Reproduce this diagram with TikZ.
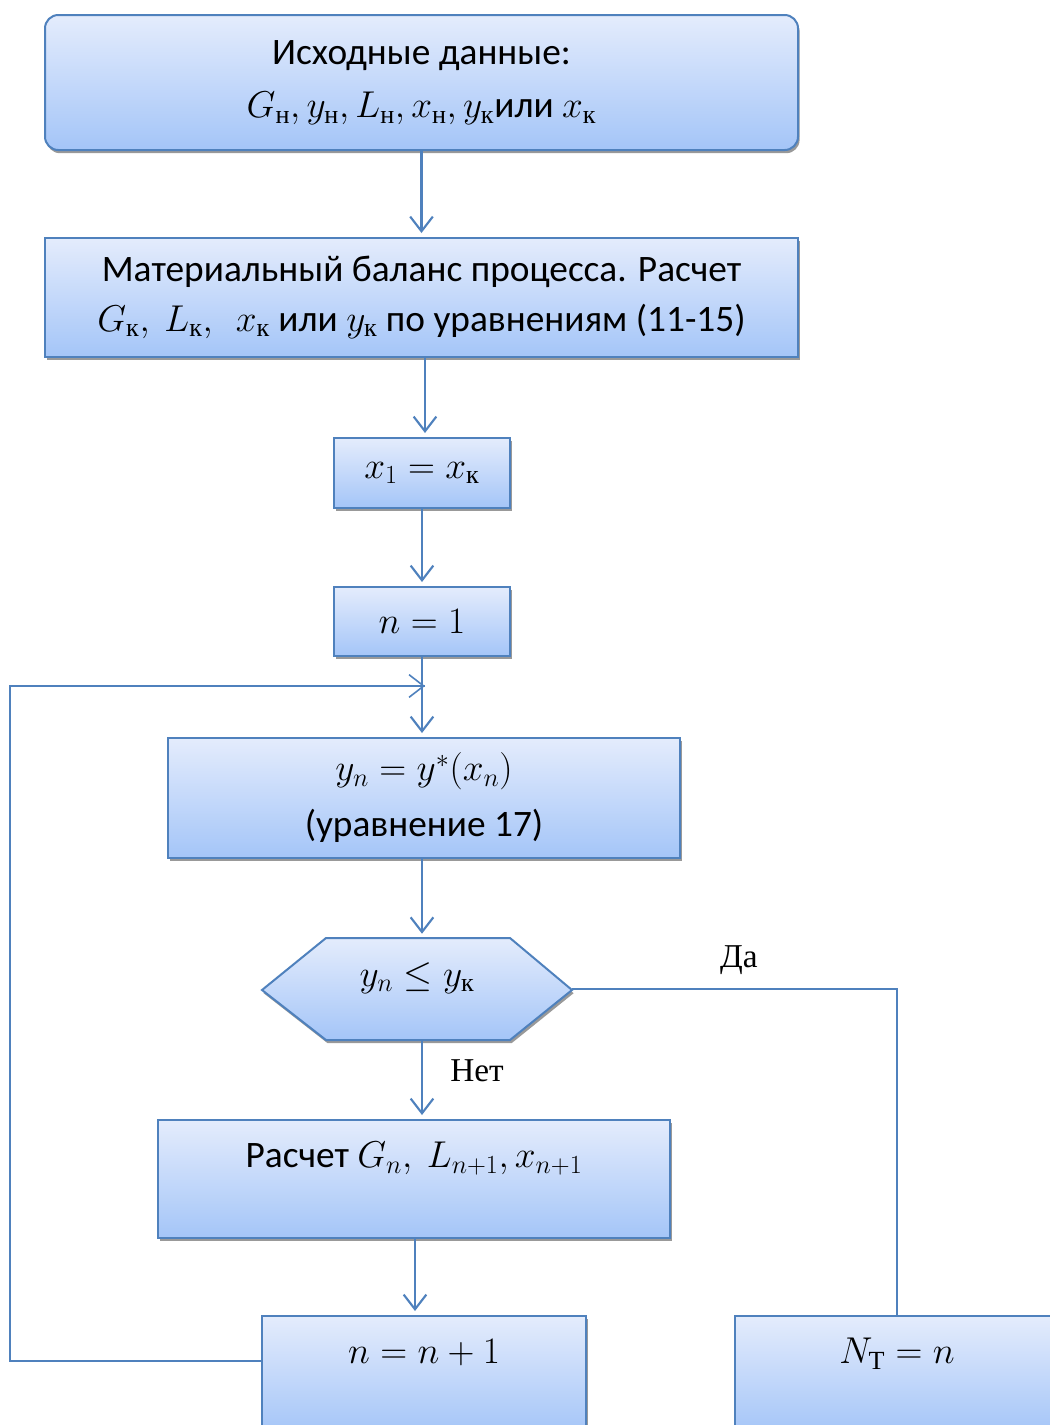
\RequirePackage{fix-cm}
\documentclass[tikz,border=0pt]{standalone}
\usepackage{amsmath}
\usepackage[no-math]{fontspec}
\setmainfont{Carlito}
\newfontfamily\ser{Liberation Serif}
\usetikzlibrary{arrows.meta,shadows,calc}
\definecolor{edgeblue}{RGB}{79,129,189}
\definecolor{topblue}{RGB}{228,236,252}
\definecolor{botblue}{RGB}{164,197,248}
\newcommand\cy[1]{\text{\ser #1}}
\tikzset{
  fc/.style={draw=edgeblue, line width=1.5pt, top color=topblue, bottom color=botblue,
    drop shadow={shadow xshift=1.2pt, shadow yshift=-2.4pt, fill=black!40, opacity=1},
    inner sep=0pt, align=center, font=\fontsize{28}{40}\selectfont},
  conn/.style={draw=edgeblue, line width=1.6pt, -{Straight Barb[length=11pt,width=17pt]}, shorten >=3pt},
  thin/.style={draw=edgeblue, line width=1.2pt},
  lbl/.style={font=\ser\fontsize{25}{30}\selectfont, inner sep=0pt}
}
\begin{document}
\begin{tikzpicture}[x=0.75pt,y=-0.75pt]
\begin{scope}
\clip (0,0) rectangle (1050,1425);
\node[fc, rounded corners=10pt, minimum width={753*0.75pt}, minimum height={135*0.75pt}] (b1) at (421.5,82.5)
  {Исходные данные:\\ $G_{\cy{н}}, y_{\cy{н}}, L_{\cy{н}}, x_{\cy{н}}, y_{\cy{к}}$или $x_{\cy{к}}$};
\node[fc, minimum width={753*0.75pt}, minimum height={119*0.75pt}] (b2) at (421.5,297.5)
  {\raisebox{-3pt}{Материальный баланс процесса. Расчет}\\ $G_{\cy{к}},\ L_{\cy{к}},\ \ x_{\cy{к}}$ или $y_{\cy{к}}$ по уравнениям (11-15)};
\node[fc, minimum width={176*0.75pt}, minimum height={70*0.75pt}] (b3) at (422,473) {\raisebox{-4pt}{$x_1 = x_{\cy{к}}$}};
\node[fc, minimum width={176*0.75pt}, minimum height={69*0.75pt}] (b4) at (422,621.5) {$n = 1$};
\node[fc, minimum width={512*0.75pt}, minimum height={120*0.75pt}] (b5) at (424,798)
  {$y_n = y^{*}(x_n)$\\[2pt] (уравнение 17)};
\path[fc] (262,990) -- (326,938) -- (510,938) -- (572,990) -- (510,1040) -- (326,1040) -- cycle;
\node[inner sep=0pt, minimum width={310*0.75pt}, minimum height={102*0.75pt}, font=\fontsize{28}{40}\selectfont] (dec) at (417,989)
  {\raisebox{22pt}{$y_n \le y_{\cy{к}}$}};
\node[fc, minimum width={512*0.75pt}, minimum height={118*0.75pt}] (b6) at (414,1179)
  {Расчет $G_n,\ L_{n+1}, x_{n+1}$\\[-16pt] \strut};
\node[fc, minimum width={324*0.75pt}, minimum height={118*0.75pt}] (b7) at (424,1375)
  {$n = n + 1$\\[-16pt] \strut};
\node[fc, minimum width={324*0.75pt}, minimum height={118*0.75pt}] (b8) at (897,1375)
  {$N_{\cy{Т}} = n$\\[-16pt] \strut};
\coordinate (loopin) at (425,686);
\coordinate (b2out) at (425,357);
\coordinate (b7in) at ($(b7.north west)+(0,46)$);

\draw[conn] (b1.south) -- (b1.south |- b2.north);
\draw[conn] (b2out) -- (b2out |- b3.north);
\draw[conn] (b3.south) -- (b3.south |- b4.north);
\draw[conn] (b4.south) -- (b4.south |- b5.north);
\draw[conn] (b5.south -| dec.south) ++(5,0) coordinate (b5out) -- (b5out |- dec.north);
\draw[conn] (dec.south) ++(5,0) coordinate (decout) -- (decout |- b6.north);
\draw[conn] (b6.south) ++(1,0) coordinate (b6out) -- (b6out |- b7.north);
\draw[thin] (b7in) -| (10,686) -- (loopin);
\draw[thin, -{Straight Barb[length=11pt,width=17pt]}] (10,686) -- (loopin);
\draw[thin] (dec.east) -| (b8.north);
\node[lbl] (da) at (739,960) {Да};
\node[lbl] (net) at (477,1071) {Нет};
\end{scope}
\pgfresetboundingbox
\path[use as bounding box] (0,0) rectangle (1050,1425);
\end{tikzpicture}
\end{document}
